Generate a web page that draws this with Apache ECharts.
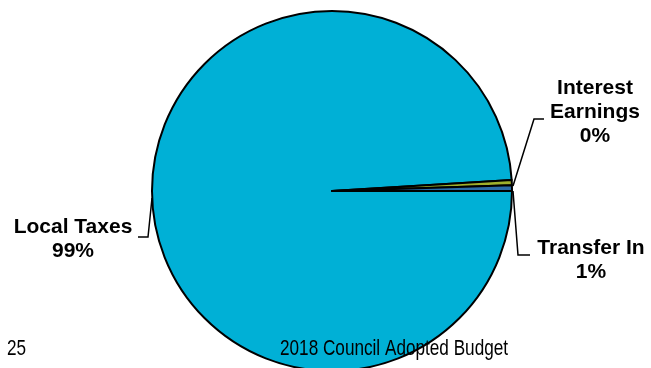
<!DOCTYPE html>
<html>
<head>
<meta charset="utf-8">
<style>
  html, body { margin: 0; padding: 0; background: #ffffff; }
  #chart { width: 651px; height: 368px; }
</style>
<script src="https://cdn.jsdelivr.net/npm/echarts@6/dist/echarts.min.js"></script>
</head>
<body>
<div id="chart"></div>
<script>
// Revenue sources (share of total, %)
const categories = ['Local Taxes', 'Interest Earnings', 'Transfer In'];
const shares = [99.02, 0.48, 0.5];
const sliceColors = ['#00B0D6', '#9FB02C', '#2A6CA8'];

const pageNumber = '25';
const footerTitle = '2018 Council Adopted Budget';

// Label centre and leader-line geometry for each slice
const labelSpots = [
  { x: 73, y: 239, line: [[152, 198], [148, 237], [138, 237]] },
  { x: 595, y: 112, line: [[513, 186], [534, 119], [544, 119]] },
  { x: 591, y: 260, line: [[513, 191], [518, 255], [530, 255]] }
];

const footerFont = '22px "Liberation Sans", Arial, sans-serif';

const chart = echarts.init(document.getElementById('chart'), null, { renderer: 'canvas' });

chart.setOption({
  animation: false,
  backgroundColor: '#ffffff',
  series: [{
    type: 'pie',
    center: [332, 191],
    radius: 180,
    startAngle: 0,
    clockwise: true,
    percentPrecision: 0,
    avoidLabelOverlap: false,
    itemStyle: { borderColor: '#000000', borderWidth: 2 },
    label: {
      show: true,
      fontFamily: 'Liberation Sans, Arial, sans-serif',
      fontWeight: 'bold',
      fontSize: 21,
      lineHeight: 24,
      color: '#000000',
      align: 'center',
      formatter: function (p) {
        const name = p.dataIndex === 1 ? p.name.replace(' ', '\n') : p.name;
        return name + '\n' + p.percent + '%';
      }
    },
    labelLine: {
      show: true,
      lineStyle: { color: '#000000', width: 1.5 }
    },
    labelLayout: function (params) {
      const s = labelSpots[params.dataIndex];
      return {
        x: s.x,
        y: s.y,
        align: 'center',
        verticalAlign: 'middle',
        labelLinePoints: s.line
      };
    },
    emphasis: { disabled: true },
    data: categories.map(function (name, i) {
      return { name: name, value: shares[i], itemStyle: { color: sliceColors[i] } };
    })
  }],
  graphic: [
    {
      type: 'text', x: 7, y: 338, scaleX: 0.78, z: 100,
      style: { text: pageNumber, fill: '#000000', font: footerFont }
    },
    {
      type: 'text', x: 280, y: 338, scaleX: 0.78, z: 100,
      style: { text: footerTitle, fill: '#000000', font: footerFont }
    }
  ]
});
</script>
</body>
</html>
